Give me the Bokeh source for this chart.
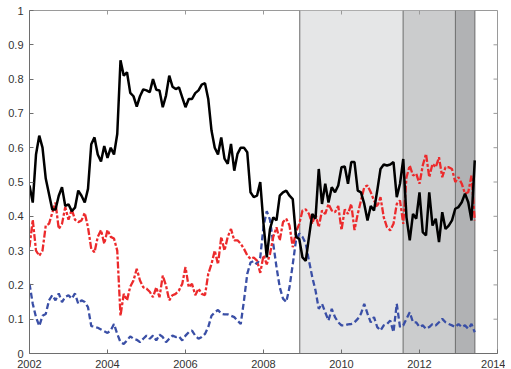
from bokeh.plotting import figure
from bokeh.models import FixedTicker, NumeralTickFormatter, BasicTickFormatter, Range1d
from bokeh.embed import file_html
from bokeh.resources import INLINE

# monthly observations starting Jan 2002
start_year = 2002
n_months = 138
dates = [start_year + k / 12 for k in range(n_months)]

black_series = [
    0.49, 0.44, 0.58, 0.635, 0.60, 0.51, 0.465, 0.42, 0.42, 0.46, 0.485, 0.43,
    0.435, 0.415, 0.425, 0.475, 0.46, 0.44, 0.48, 0.61, 0.63, 0.58, 0.56, 0.605,
    0.57, 0.60, 0.58, 0.64, 0.855, 0.81, 0.82, 0.76, 0.75, 0.72, 0.75, 0.77,
    0.767, 0.762, 0.80, 0.769, 0.767, 0.718, 0.752, 0.81, 0.778, 0.771, 0.776, 0.747,
    0.718, 0.742, 0.742, 0.759, 0.767, 0.784, 0.788, 0.742, 0.65, 0.60, 0.58, 0.63,
    0.568, 0.553, 0.611, 0.533, 0.582, 0.60, 0.60, 0.587, 0.47, 0.456, 0.46, 0.50,
    0.378, 0.28, 0.363, 0.397, 0.388, 0.46, 0.47, 0.475, 0.46, 0.45, 0.34, 0.334,
    0.28, 0.27, 0.34, 0.407, 0.393, 0.538, 0.436, 0.495, 0.44, 0.485, 0.47, 0.49,
    0.543, 0.545, 0.495, 0.558, 0.558, 0.475, 0.47, 0.436, 0.388, 0.43, 0.417, 0.475,
    0.538, 0.551, 0.548, 0.551, 0.558, 0.456, 0.495, 0.567, 0.397, 0.33, 0.407, 0.393,
    0.47, 0.354, 0.344, 0.47, 0.373, 0.393, 0.325, 0.412, 0.363, 0.373, 0.388, 0.422,
    0.427, 0.441, 0.466, 0.441, 0.388, 0.563,
]

red_series = [
    0.31, 0.39, 0.30, 0.285, 0.30, 0.373, 0.378, 0.41, 0.44, 0.363, 0.378, 0.427,
    0.39, 0.42, 0.39, 0.383, 0.388, 0.41, 0.368, 0.305, 0.295, 0.34, 0.36, 0.32,
    0.36, 0.34, 0.335, 0.30, 0.11, 0.174, 0.155, 0.195, 0.213, 0.247, 0.213, 0.193,
    0.189, 0.18, 0.164, 0.193, 0.164, 0.227, 0.198, 0.155, 0.17, 0.174, 0.184, 0.203,
    0.252, 0.193, 0.203, 0.17, 0.189, 0.174, 0.17, 0.232, 0.261, 0.30, 0.26, 0.34,
    0.30, 0.34, 0.363, 0.33, 0.33, 0.32, 0.305, 0.286, 0.276, 0.28, 0.271, 0.235,
    0.286, 0.26, 0.29, 0.34, 0.368, 0.33, 0.383, 0.393, 0.373, 0.31, 0.354, 0.378,
    0.417, 0.42, 0.407, 0.378, 0.407, 0.368, 0.417, 0.407, 0.436, 0.417, 0.412, 0.43,
    0.36, 0.42, 0.407, 0.436, 0.36, 0.407, 0.446, 0.485, 0.49, 0.47, 0.446, 0.427,
    0.456, 0.397, 0.368, 0.359, 0.378, 0.436, 0.446, 0.378, 0.514, 0.548, 0.519, 0.524,
    0.495, 0.548, 0.582, 0.514, 0.553, 0.543, 0.572, 0.514, 0.543, 0.543, 0.538, 0.50,
    0.514, 0.495, 0.466, 0.47, 0.519, 0.388,
]

blue_series = [
    0.203, 0.145, 0.106, 0.08, 0.11, 0.115, 0.155, 0.17, 0.155, 0.175, 0.15, 0.165,
    0.17, 0.16, 0.175, 0.145, 0.155, 0.15, 0.135, 0.08, 0.078, 0.075, 0.07, 0.065,
    0.06, 0.067, 0.086, 0.057, 0.033, 0.028, 0.038, 0.05, 0.043, 0.04, 0.033, 0.043,
    0.052, 0.043, 0.052, 0.038, 0.055, 0.048, 0.033, 0.043, 0.052, 0.048, 0.05, 0.038,
    0.052, 0.062, 0.067, 0.052, 0.043, 0.048, 0.057, 0.077, 0.11, 0.12, 0.127, 0.116,
    0.114, 0.114, 0.11, 0.106, 0.096, 0.086, 0.155, 0.232, 0.265, 0.27, 0.26, 0.28,
    0.37, 0.415, 0.39, 0.32, 0.252, 0.193, 0.16, 0.15, 0.193, 0.26, 0.33, 0.35,
    0.34, 0.32, 0.27, 0.223, 0.184, 0.13, 0.145, 0.12, 0.096, 0.13, 0.106, 0.091,
    0.082, 0.082, 0.085, 0.086, 0.091, 0.101, 0.116, 0.145, 0.116, 0.091, 0.106, 0.077,
    0.067, 0.082, 0.086, 0.096, 0.062, 0.145, 0.077, 0.082, 0.101, 0.12, 0.091, 0.091,
    0.077, 0.082, 0.072, 0.077, 0.086, 0.082, 0.091, 0.101, 0.091, 0.086, 0.082, 0.077,
    0.086, 0.077, 0.082, 0.072, 0.086, 0.062,
]

# shaded periods
period_starts = [2008.93, 2011.58, 2012.92]
period_ends = [2011.58, 2012.92, 2013.42]
period_colors = ["#e5e6e7", "#cbcccd", "#b1b2b4"]
period_edges = [2008.93, 2011.58, 2012.92, 2013.42]

x_ticks = [2002, 2004, 2006, 2008, 2010, 2012, 2014]
y_ticks = [0, 0.1, 0.2, 0.3, 0.4, 0.5, 0.6, 0.7, 0.8, 0.9, 1]

X_MIN, X_MAX, Y_MIN, Y_MAX = 2002, 2014, 0, 1
FONT = "Liberation Sans"
AX = "#6e6e6e"
BOX = "#9a9a9a"
FRAME_W, FRAME_H, TICK_PX = 468, 343, 4

p = figure(frame_width=FRAME_W, frame_height=FRAME_H,
           x_range=Range1d(X_MIN, X_MAX), y_range=Range1d(Y_MIN, Y_MAX),
           output_backend="svg", toolbar_location=None,
           min_border_left=29, min_border_right=8, min_border_top=10, min_border_bottom=16)
p.xgrid.visible = False
p.ygrid.visible = False
p.outline_line_color = BOX
p.background_fill_color = "white"
p.border_fill_color = "white"

p.quad(left=period_starts, right=period_ends, bottom=Y_MIN, top=Y_MAX,
       fill_color=period_colors, line_color=None)
p.segment(x0=period_edges, x1=period_edges, y0=Y_MIN, y1=Y_MAX, line_color="#6a6a6a", line_width=1)

p.line(dates, blue_series, line_color="#3a4fa6", line_width=2.3, line_dash="6 3")
p.line(dates, red_series, line_color="#ec2a2c", line_width=2.3, line_dash="7 2 3 2")
p.line(dates, black_series, line_color="black", line_width=2.5)

# inward ticks on the top and right edges of the box
dy_tick = TICK_PX * (Y_MAX - Y_MIN) / FRAME_H
dx_tick = TICK_PX * (X_MAX - X_MIN) / FRAME_W
p.segment(x0=x_ticks, x1=x_ticks, y0=[Y_MAX] * len(x_ticks), y1=[Y_MAX - dy_tick] * len(x_ticks),
          line_color=BOX, line_width=1)
p.segment(x0=[X_MAX] * len(y_ticks), x1=[X_MAX - dx_tick] * len(y_ticks), y0=y_ticks, y1=y_ticks,
          line_color=BOX, line_width=1)

for ax in (p.xaxis[0], p.yaxis[0]):
    ax.axis_line_color = AX
    ax.major_tick_line_color = AX
    ax.major_tick_in = TICK_PX
    ax.major_tick_out = 0
    ax.minor_tick_line_color = None
    ax.major_label_text_font = FONT
    ax.major_label_text_font_size = "11px"
    ax.major_label_text_color = "#333333"

p.xaxis[0].ticker = FixedTicker(ticks=x_ticks)
p.xaxis[0].formatter = BasicTickFormatter(use_scientific=False)
p.xaxis[0].major_label_standoff = 6
p.yaxis[0].ticker = FixedTicker(ticks=y_ticks)
p.yaxis[0].formatter = NumeralTickFormatter(format="0.[0]")
p.yaxis[0].major_label_standoff = 6

open("out.html", "w").write(file_html(p, INLINE))
